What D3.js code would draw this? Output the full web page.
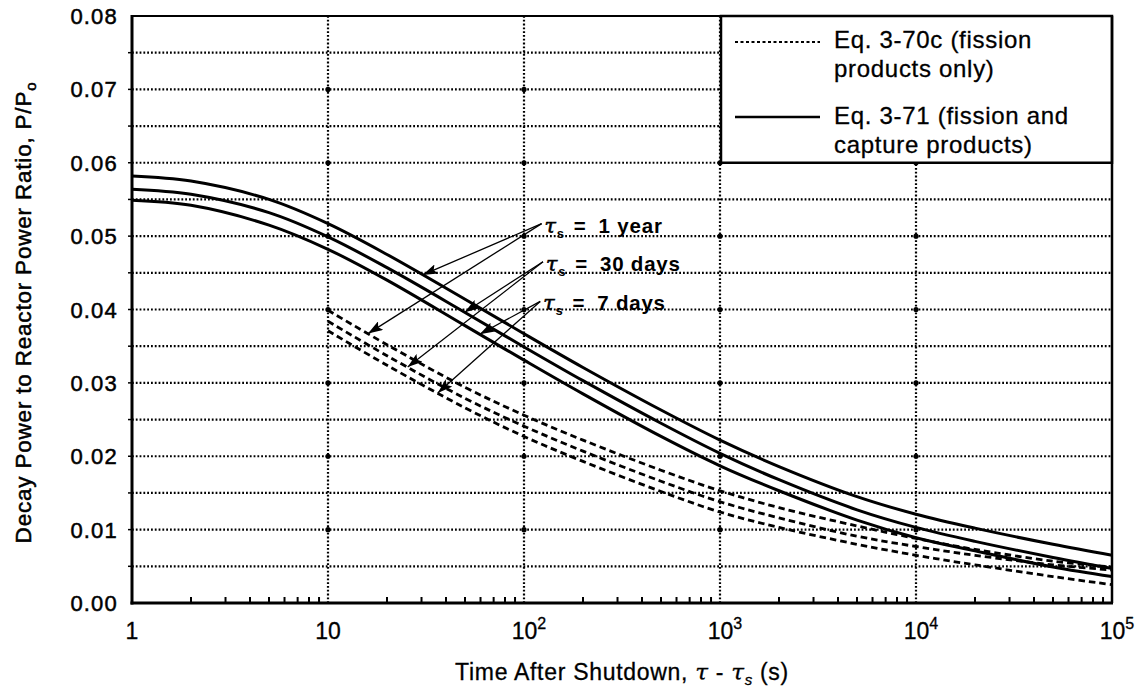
<!DOCTYPE html>
<html>
<head>
<meta charset="utf-8">
<script src="https://cdn.jsdelivr.net/npm/d3@7"></script>
<style>
  body { margin: 0; background: #fff; }
  svg { display: block; font-family: "Liberation Sans", Arial, Helvetica, sans-serif; }
</style>
</head>
<body>
<svg id="chart" width="1138" height="690"></svg>
<script>
// x tick labels (base + exponent)
let xTicks = [1, 10, 100, 1000, 10000, 100000];
let xTickBase = ["1", "10", "10", "10", "10", "10"];
let xTickExp = ["", "", "2", "3", "4", "5"];
let yTicks = [0, 0.01, 0.02, 0.03, 0.04, 0.05, 0.06, 0.07, 0.08];

// Eq. 3-71 (solid) curves
let timeSolid = [1, 2, 5, 10, 20, 50, 100, 200, 500, 1000, 2000, 5000, 1e4, 2e4, 5e4, 1e5];
let solid1yr = [0.0582, 0.0575, 0.0550, 0.0517, 0.0475, 0.0414, 0.0367, 0.0321, 0.0263, 0.0222, 0.0186, 0.0145, 0.0121, 0.0102, 0.0080, 0.0065];
let solid30d = [0.0564, 0.0557, 0.0532, 0.0499, 0.0457, 0.0396, 0.0349, 0.0303, 0.0245, 0.0204, 0.0168, 0.0127, 0.0103, 0.0084, 0.0062, 0.0047];
let solid7d  = [0.0549, 0.0542, 0.0515, 0.0482, 0.0440, 0.0378, 0.0331, 0.0285, 0.0227, 0.0187, 0.0153, 0.0113, 0.0089, 0.0071, 0.0049, 0.0036];

// Eq. 3-70c (dashed) curves
let timeDashed = [10, 20, 50, 100, 200, 500, 1000, 2000, 5000, 1e4, 2e4, 5e4, 1e5];
let dashed1yr = [0.0399, 0.0352, 0.0294, 0.0256, 0.0222, 0.0181, 0.0153, 0.0130, 0.0105, 0.0088, 0.0073, 0.0057, 0.0049];
let dashed30d = [0.0384, 0.0337, 0.0279, 0.0241, 0.0207, 0.0166, 0.0138, 0.0116, 0.0091, 0.0077, 0.0065, 0.0052, 0.0045];
let dashed7d  = [0.0371, 0.0324, 0.0266, 0.0227, 0.0193, 0.0152, 0.0124, 0.0103, 0.0080, 0.0065, 0.0052, 0.0036, 0.0025];

// annotations: label, arrow origin (t, value), arrow targets (t on solid, t on dashed)
let annLabels = ["1 year", "30 days", "7 days"];
let annOriginT = [123, 125, 121];
let annOriginV = [0.0517, 0.0465, 0.0411];
let annSolidT = [30.4, 49.8, 59.4];
let annDashedT = [16, 25.5, 36.3];

let svg = d3.select("#chart");
let margin = { top: 16, right: 26, bottom: 87, left: 132 };
let W = 1138, H = 690;
let plotW = W - margin.left - margin.right;
let plotH = H - margin.top - margin.bottom;

let x = d3.scaleLog().domain([1, 1e5]).range([margin.left, margin.left + plotW]);
let y = d3.scaleLinear().domain([0, 0.08]).range([margin.top + plotH, margin.top]);

// grid lines
let gridY = d3.range(1, 16).map(i => i * 0.005);
svg.append("g").selectAll("line").data(gridY).enter().append("line")
  .attr("x1", x(1)).attr("x2", x(1e5))
  .attr("y1", d => y(d)).attr("y2", d => y(d))
  .attr("stroke", "#000").attr("stroke-width", 2.2)
  .attr("stroke-dasharray", "1.8,2");

let gridX = [10, 100, 1000, 10000];
svg.append("g").selectAll("line").data(gridX).enter().append("line")
  .attr("x1", d => x(d)).attr("x2", d => x(d))
  .attr("y1", y(0)).attr("y2", y(0.08))
  .attr("stroke", "#000").attr("stroke-width", 2.2)
  .attr("stroke-dasharray", "1.8,2");

// dots where decade lines meet 0.01 lines
let dotPts = [];
gridX.forEach(gx => yTicks.slice(1, 8).forEach(gy => {
  if (!(gx >= 1000 && gy > 0.06)) dotPts.push([gx, gy]);
}));
svg.append("g").selectAll("circle").data(dotPts).enter().append("circle")
  .attr("cx", d => x(d[0])).attr("cy", d => y(d[1])).attr("r", 2.6)
  .attr("fill", "#000");

// minor ticks on the bottom axis
let minorX = [];
[1, 10, 100, 1000, 10000].forEach(dec => d3.range(2, 10).forEach(k => minorX.push(k * dec)));
svg.append("g").selectAll("line").data(minorX).enter().append("line")
  .attr("x1", d => x(d)).attr("x2", d => x(d))
  .attr("y1", y(0)).attr("y2", y(0) - 6)
  .attr("stroke", "#000").attr("stroke-width", 2);

// small outward ticks on the left
svg.append("g").selectAll("line").data(gridY).enter().append("line")
  .attr("x1", x(1) - 4).attr("x2", x(1))
  .attr("y1", d => y(d)).attr("y2", d => y(d))
  .attr("stroke", "#000").attr("stroke-width", 1.5);

// legend box
let legX = 721;
svg.append("rect")
  .attr("x", legX).attr("y", y(0.08))
  .attr("width", x(1e5) - legX).attr("height", y(0.06) - y(0.08))
  .attr("fill", "#fff").attr("stroke", "#000").attr("stroke-width", 2.5);

// curves
let line = d3.line()
  .x(d => x(d[0])).y(d => y(d[1]))
  .curve(d3.curveCatmullRom.alpha(0.5));

let solidSeries = [solid1yr, solid30d, solid7d];
let dashedSeries = [dashed1yr, dashed30d, dashed7d];

svg.append("g").selectAll("path").data(solidSeries).enter().append("path")
  .attr("d", s => line(timeSolid.map((t, i) => [t, s[i]])))
  .attr("fill", "none").attr("stroke", "#000").attr("stroke-width", 3);

svg.append("g").selectAll("path").data(dashedSeries).enter().append("path")
  .attr("d", s => line(timeDashed.map((t, i) => [t, s[i]])))
  .attr("fill", "none").attr("stroke", "#000").attr("stroke-width", 2.8)
  .attr("stroke-dasharray", "6.5,4");

// frame
svg.append("line").attr("x1", x(1)).attr("x2", x(1)).attr("y1", y(0.08) - 1).attr("y2", y(0) + 1.5)
  .attr("stroke", "#000").attr("stroke-width", 3);
svg.append("line").attr("x1", x(1) - 1.5).attr("x2", x(1e5) + 1).attr("y1", y(0)).attr("y2", y(0))
  .attr("stroke", "#000").attr("stroke-width", 3);
svg.append("line").attr("x1", x(1)).attr("x2", x(1e5)).attr("y1", y(0.08)).attr("y2", y(0.08))
  .attr("stroke", "#000").attr("stroke-width", 2);
svg.append("line").attr("x1", x(1e5)).attr("x2", x(1e5)).attr("y1", y(0.08)).attr("y2", y(0))
  .attr("stroke", "#000").attr("stroke-width", 2.5);

// y tick labels
svg.append("g").selectAll("text").data(yTicks).enter().append("text")
  .attr("x", x(1) - 14).attr("y", d => y(d) + 8)
  .attr("text-anchor", "end").attr("font-size", 22).attr("letter-spacing", 1.2)
  .attr("stroke", "#000").attr("stroke-width", 0.5)
  .text(d => d3.format(".2f")(d));

// x tick labels
let xl = svg.append("g").selectAll("text").data(xTicks).enter().append("text")
  .attr("x", (d, i) => x(d) + (xTickExp[i] ? 5 : 0)).attr("y", 639)
  .attr("text-anchor", "middle").attr("font-size", 23)
  .attr("stroke", "#000").attr("stroke-width", 0.3);
xl.append("tspan").text((d, i) => xTickBase[i]);
xl.append("tspan").attr("dy", -10).attr("font-size", 16).text((d, i) => xTickExp[i]);

// axis titles
let xt = svg.append("text").attr("x", (x(1) + x(1e5)) / 2).attr("y", 680)
  .attr("text-anchor", "middle").attr("font-size", 23).attr("letter-spacing", 0.7)
  .attr("stroke", "#000").attr("stroke-width", 0.3);
xt.append("tspan").text("Time After Shutdown, ");
xt.append("tspan").attr("font-style", "italic").attr("font-family", "DejaVu Serif").text("τ");
xt.append("tspan").text(" - ");
xt.append("tspan").attr("font-style", "italic").attr("font-family", "DejaVu Serif").text("τ");
xt.append("tspan").attr("font-style", "italic").attr("font-size", 15).attr("dy", 5).text("s");
xt.append("tspan").attr("dy", -5).text(" (s)");

let yt = svg.append("text")
  .attr("transform", "translate(31," + ((y(0) + y(0.08)) / 2 + 3) + ") rotate(-90)")
  .attr("text-anchor", "middle").attr("font-size", 22.5).attr("letter-spacing", 0.8)
  .attr("stroke", "#000").attr("stroke-width", 0.5);
yt.append("tspan").text("Decay Power to Reactor Power Ratio, P/P");
yt.append("tspan").attr("font-size", 15).attr("dy", 5).text("o");

// legend entries
svg.append("line").attr("x1", 735).attr("x2", 820).attr("y1", 42).attr("y2", 42)
  .attr("stroke", "#000").attr("stroke-width", 2).attr("stroke-dasharray", "3,2.5");
svg.append("line").attr("x1", 735).attr("x2", 820).attr("y1", 117).attr("y2", 117)
  .attr("stroke", "#000").attr("stroke-width", 2.5);
let legText = [["Eq. 3-70c (fission", 48], ["products only)", 77], ["Eq. 3-71 (fission and", 124], ["capture products)", 153]];
svg.append("g").selectAll("text").data(legText).enter().append("text")
  .attr("x", 834).attr("y", d => d[1]).attr("font-size", 24).attr("letter-spacing", 0.7)
  .attr("stroke", "#000").attr("stroke-width", 0.3)
  .text(d => d[0]);

// annotation arrows
svg.append("defs").append("marker")
  .attr("id", "arrow").attr("viewBox", "0 0 15 10")
  .attr("refX", 15).attr("refY", 5)
  .attr("markerWidth", 15).attr("markerHeight", 10)
  .attr("markerUnits", "userSpaceOnUse").attr("orient", "auto")
  .append("path").attr("d", "M0,0 L15,5 L0,10 L3,5 Z").attr("fill", "#000");

function valueAt(ts, vs, t) {
  let lt = Math.log10(t);
  for (let i = 0; i < ts.length - 1; i++) {
    let a = Math.log10(ts[i]), b = Math.log10(ts[i + 1]);
    if (lt >= a && lt <= b) return vs[i] + (vs[i + 1] - vs[i]) * (lt - a) / (b - a);
  }
  return vs[vs.length - 1];
}

let arrows = [];
annLabels.forEach((lab, i) => {
  arrows.push([annOriginT[i], annOriginV[i], annSolidT[i], valueAt(timeSolid, solidSeries[i], annSolidT[i])]);
  arrows.push([annOriginT[i], annOriginV[i], annDashedT[i], valueAt(timeDashed, dashedSeries[i], annDashedT[i])]);
});
svg.append("g").selectAll("line").data(arrows).enter().append("line")
  .attr("x1", d => x(d[0])).attr("y1", d => y(d[1]))
  .attr("x2", d => x(d[2])).attr("y2", d => y(d[3]))
  .attr("stroke", "#000").attr("stroke-width", 1.3)
  .attr("marker-end", "url(#arrow)");

let ann = svg.append("g").selectAll("text").data(annLabels).enter().append("text")
  .attr("x", (d, i) => x(annOriginT[i]) + 3)
  .attr("y", (d, i) => y(annOriginV[i]) + 9)
  .attr("font-size", 20.5).attr("font-weight", "bold").attr("letter-spacing", 0.8);
ann.append("tspan").attr("font-style", "italic").attr("font-family", "DejaVu Serif").attr("font-weight", "normal")
  .attr("stroke", "#000").attr("stroke-width", 0.6).text("τ");
ann.append("tspan").attr("font-size", 13).attr("dy", 5).text("s");
ann.append("tspan").attr("dy", -5).attr("dx", 9).text("=");
ann.append("tspan").attr("dx", 12).text(d => d);
</script>
</body>
</html>
